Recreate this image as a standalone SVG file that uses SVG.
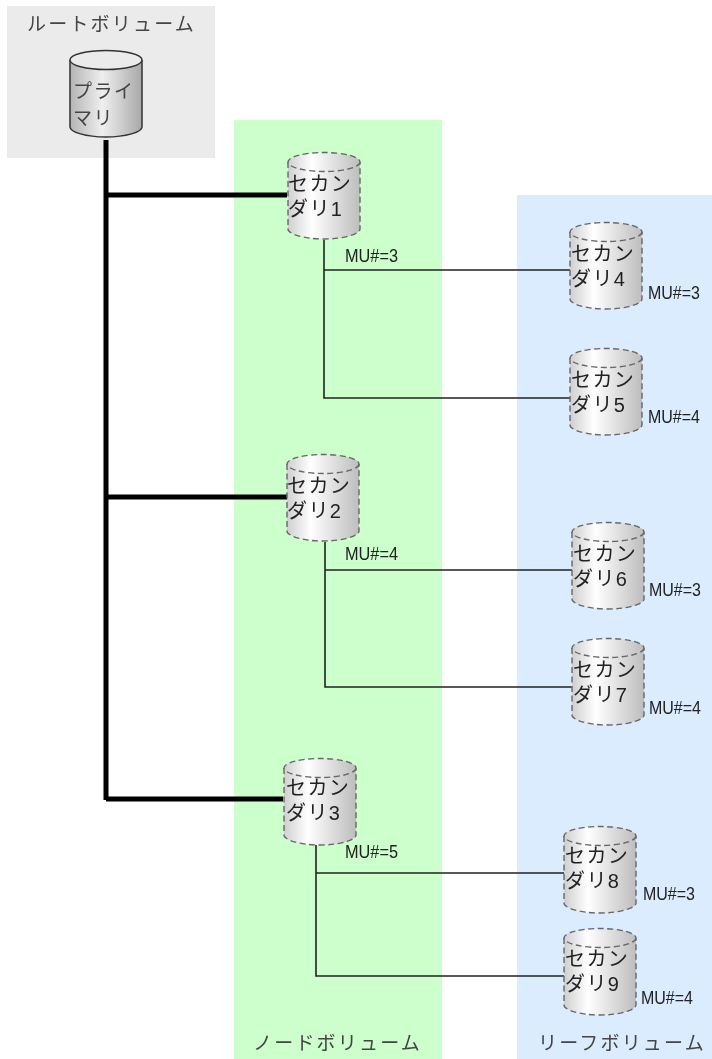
<svg xmlns="http://www.w3.org/2000/svg" width="712" height="1059" viewBox="0 0 712 1059">
<style>
text{font-family:"Liberation Sans","Noto Sans CJK JP",sans-serif;fill:#222;filter:url(#soft)}
.lab{font-size:19px;letter-spacing:2.2px;fill:#444}
.pl{font-size:19px;letter-spacing:1.5px;fill:#444}
.nm{font-size:20px;letter-spacing:1.4px}
.mu{font-size:18px;fill:#222}
.thick{fill:none;stroke:#000;stroke-width:5}
.thin{fill:none;stroke:#222;stroke-width:1.6}
.body,.top{stroke:#666;stroke-width:1.4;stroke-dasharray:6 3.5;fill:url(#sec)}
.pbody{stroke:#333;stroke-width:1.5;fill:url(#pri)}
.ptop{stroke:#333;stroke-width:1.5;fill:#ebebeb}
</style>
<defs>
<filter id="soft" x="-5%" y="-5%" width="110%" height="110%"><feGaussianBlur stdDeviation="0.35"/></filter>
<linearGradient id="sec"><stop offset="0" stop-color="#cfcfcf"/><stop offset=".33" stop-color="#ffffff"/><stop offset="1" stop-color="#bdbdbd"/></linearGradient>
<linearGradient id="pri"><stop offset="0" stop-color="#b4b4b4"/><stop offset=".45" stop-color="#efefef"/><stop offset="1" stop-color="#a8a8a8"/></linearGradient>
<g id="cyl"><path class="body" d="M0 10V77C0 82 16 87 36 87S72 82 72 77V10"/><ellipse class="top" cx="36" cy="10" rx="36" ry="9.5"/></g>
</defs>
<rect width="712" height="1059" fill="#fff"/>
<rect x="7" y="6" width="208" height="152" fill="#ebebeb"/>
<rect x="234" y="120" width="208" height="939" fill="#ccffcc"/>
<rect x="517" y="195" width="195" height="864" fill="#dbecff"/>
<text class="lab" x="27" y="31">ルートボリューム</text>
<text class="lab" x="253" y="1050">ノードボリューム</text>
<text class="lab" x="538" y="1050">リーフボリューム</text>
<g id="connectors">
<path class="thick" d="M106 140V800"/>
<path class="thick" d="M106 195H287M106 497H287M106 799H283"/>
<path class="thin" d="M324 240V398H570M324 270H570"/>
<path class="thin" d="M325 542V687H572M325 570H572"/>
<path class="thin" d="M316 844V976H564M316 873H564"/>
</g>
<g id="primary"><path class="pbody" d="M70 60V127C70 132 86 137 106 137S142 132 142 127V60"/><ellipse class="ptop" cx="106" cy="60" rx="36" ry="9.5"/><text class="pl" x="73" y="98">プライ</text><text class="pl" x="73" y="125">マリ</text></g>
<g id="s1"><use href="#cyl" x="288" y="152"/><text class="nm" x="288" y="191">セカン</text><text class="nm" x="288" y="216">ダリ1</text></g>
<g id="s2"><use href="#cyl" x="287" y="454"/><text class="nm" x="287" y="493">セカン</text><text class="nm" x="287" y="518">ダリ2</text></g>
<g id="s3"><use href="#cyl" x="284" y="758"/><text class="nm" x="286" y="795">セカン</text><text class="nm" x="286" y="820">ダリ3</text></g>
<g id="s4"><use href="#cyl" x="570" y="222"/><text class="nm" x="571" y="261">セカン</text><text class="nm" x="571" y="286">ダリ4</text></g>
<g id="s5"><use href="#cyl" x="570" y="348"/><text class="nm" x="571" y="387">セカン</text><text class="nm" x="571" y="412">ダリ5</text></g>
<g id="s6"><use href="#cyl" x="572" y="522"/><text class="nm" x="573" y="561">セカン</text><text class="nm" x="573" y="586">ダリ6</text></g>
<g id="s7"><use href="#cyl" x="572" y="638"/><text class="nm" x="573" y="677">セカン</text><text class="nm" x="573" y="702">ダリ7</text></g>
<g id="s8"><use href="#cyl" x="564" y="826"/><text class="nm" x="565" y="863">セカン</text><text class="nm" x="565" y="888">ダリ8</text></g>
<g id="s9"><use href="#cyl" x="564" y="928"/><text class="nm" x="565" y="966">セカン</text><text class="nm" x="565" y="991">ダリ9</text></g>
<g id="labels">
<text class="mu" x="345" y="262" textLength="53" lengthAdjust="spacingAndGlyphs">MU#=3</text>
<text class="mu" x="648" y="299" textLength="52" lengthAdjust="spacingAndGlyphs">MU#=3</text>
<text class="mu" x="648" y="423" textLength="52" lengthAdjust="spacingAndGlyphs">MU#=4</text>
<text class="mu" x="345" y="560" textLength="53" lengthAdjust="spacingAndGlyphs">MU#=4</text>
<text class="mu" x="649" y="596" textLength="52" lengthAdjust="spacingAndGlyphs">MU#=3</text>
<text class="mu" x="649" y="714" textLength="52" lengthAdjust="spacingAndGlyphs">MU#=4</text>
<text class="mu" x="345" y="858" textLength="53" lengthAdjust="spacingAndGlyphs">MU#=5</text>
<text class="mu" x="643" y="900" textLength="52" lengthAdjust="spacingAndGlyphs">MU#=3</text>
<text class="mu" x="641" y="1004" textLength="52" lengthAdjust="spacingAndGlyphs">MU#=4</text>
</g>
</svg>
